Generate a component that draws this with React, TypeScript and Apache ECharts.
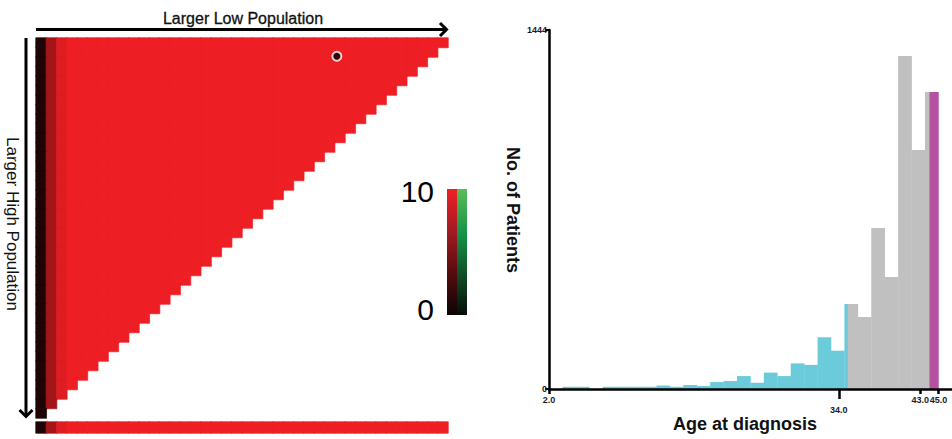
import React, { useEffect, useRef } from "react";
import * as echarts from "echarts";

// Score of each column of the triangular population map (0-10 scale)
const columnScores = [
  1.3, 6.8, 9.3, 10, 10, 10, 10, 10, 10, 10,
  10, 10, 10, 10, 10, 10, 10, 10, 10, 10,
  10, 10, 10, 10, 10, 10, 10, 10, 10, 10,
  10, 10, 10, 10, 10, 10, 10, 10, 10, 10,
];
// Bottom summary strip, one value per column
const summaryScores = [
  1.3, 6.8, 9.3, 10, 10, 10, 10, 10, 10, 10,
  10, 10, 10, 10, 10, 10, 10, 10, 10, 10,
  10, 10, 10, 10, 10, 10, 10, 10, 10, 10,
  10, 10, 10, 10, 10, 10, 10, 10, 10, 10,
];
// Highlighted cell [column, row]
const markedCell = [29, 1];

// Histogram of age at diagnosis
const ageMin = 2.0;
const ageMax = 45.0;
const patientCounts = [
  0, 9, 9, 0, 9, 9, 9, 9, 14, 9,
  16, 12, 28, 32, 52, 25, 66, 52, 103, 97,
  208, 154, 342, 290, 648, 450, 1339, 961, 1195,
];
const countMax = 1444;
const ageTicksShort = [2.0, 43.0, 45.0];
const ageTicksLong = [34.0];
// Age groups and their colours
const groupBreaks = [2.0, 35.0, 44.0, 45.0];
const groupColors = ["#6ccbdb", "#c0c0c0", "#b5519f"];

const scaleColors = ["#000000", "#ee1f24"];
const FONT = "'Liberation Sans', Arial, sans-serif";

export default function App() {
  const ref = useRef<HTMLDivElement>(null);

  useEffect(() => {
    if (!ref.current) return;
    const chart = echarts.init(ref.current, null, { renderer: "svg" });

    const n = columnScores.length;
    const cats = columnScores.map((_, i) => String(i));
    // cell outline in its own colour, so neighbouring cells join without seams
    const cell = (c: number, r: number, v: number) => ({
      value: [c, r, v],
      itemStyle: { borderColor: echarts.color.lerp(v / 10, scaleColors), borderWidth: 0.7 },
    });
    const heatData: any[] = [];
    for (let r = 0; r < n; r++) {
      for (let c = 0; c < n - r; c++) heatData.push(cell(c, r, columnScores[c]));
    }
    const stripData = summaryScores.map((v, c) => cell(c, 0, v));

    const binWidth = (ageMax - ageMin) / patientCounts.length;
    const histData = patientCounts.map((v, i) => [
      ageMin + i * binWidth,
      ageMin + (i + 1) * binWidth,
      v,
    ]);

    const tickLabel = {
      fontFamily: FONT,
      fontWeight: "bold" as const,
      fontSize: 9,
      color: "#1a1a2e",
      hideOverlap: false,
      formatter: (v: number) => v.toFixed(1),
    };

    chart.setOption({
      animation: false,
      grid: [
        { left: 36, top: 38, width: 412, height: 380 },
        { left: 36, top: 422, width: 412, height: 11 },
        { left: 549, top: 30, width: 403, height: 359 },
      ],
      xAxis: [
        { type: "category", data: cats, gridIndex: 0, show: false },
        { type: "category", data: cats, gridIndex: 1, show: false },
        {
          type: "value",
          gridIndex: 2,
          position: "bottom",
          min: ageMin,
          max: 46.5,
          z: 10,
          splitLine: { show: false },
          axisLine: { show: true, lineStyle: { color: "#000", width: 2.5 } },
          axisTick: {
            show: true,
            length: 5,
            customValues: ageTicksShort,
            lineStyle: { color: "#000", width: 2.5 },
          },
          axisLabel: { ...tickLabel, margin: 6, customValues: ageTicksShort },
        },
        {
          type: "value",
          gridIndex: 2,
          position: "bottom",
          offset: 0,
          min: ageMin,
          max: 46.5,
          z: 10,
          splitLine: { show: false },
          axisLine: { show: false },
          axisTick: {
            show: true,
            length: 10,
            customValues: ageTicksLong,
            lineStyle: { color: "#000", width: 2.5 },
          },
          axisLabel: { ...tickLabel, margin: 16, customValues: ageTicksLong },
        },
      ],
      yAxis: [
        { type: "category", data: cats, gridIndex: 0, inverse: true, show: false },
        { type: "category", data: ["0"], gridIndex: 1, show: false },
        {
          type: "value",
          gridIndex: 2,
          min: 0,
          max: countMax,
          interval: countMax,
          z: 10,
          splitLine: { show: false },
          axisLine: { show: true, lineStyle: { color: "#000", width: 2.5 } },
          axisTick: { show: true, length: 4, lineStyle: { color: "#000", width: 2 } },
          axisLabel: { ...tickLabel, margin: 2, formatter: (v: number) => String(v) },
        },
      ],
      visualMap: {
        show: false,
        min: 0,
        max: 10,
        seriesIndex: [0, 1],
        inRange: { color: scaleColors },
      },
      series: [
        {
          type: "heatmap",
          xAxisIndex: 0,
          yAxisIndex: 0,
          data: heatData,
          emphasis: { disabled: true },
        },
        {
          type: "heatmap",
          xAxisIndex: 1,
          yAxisIndex: 1,
          data: stripData,
          emphasis: { disabled: true },
        },
        {
          type: "scatter",
          xAxisIndex: 0,
          yAxisIndex: 0,
          data: [markedCell],
          symbolSize: 9,
          symbolOffset: [-3, 4],
          itemStyle: { color: "#000", borderColor: "#fff", borderWidth: 2 },
          z: 5,
        },
        {
          type: "custom",
          xAxisIndex: 2,
          yAxisIndex: 2,
          data: histData,
          encode: { x: [0, 1], y: 2 },
          renderItem: (_params: any, api: any) => {
            const x0 = api.value(0);
            const x1 = api.value(1);
            const v = api.value(2);
            const children: any[] = [];
            for (let g = 0; g < groupColors.length; g++) {
              const a = Math.max(x0, groupBreaks[g]);
              const b = Math.min(x1, groupBreaks[g + 1]);
              if (b <= a) continue;
              const p0 = api.coord([a, v]);
              const p1 = api.coord([b, 0]);
              children.push({
                type: "rect",
                shape: { x: p0[0], y: p0[1], width: p1[0] - p0[0] + 0.3, height: p1[1] - p0[1] },
                style: { fill: groupColors[g] },
              });
            }
            return { type: "group", children };
          },
        },
      ],
      graphic: [
        // horizontal arrow
        { type: "line", shape: { x1: 36, y1: 29.5, x2: 445, y2: 29.5 }, style: { stroke: "#000", lineWidth: 3 } },
        {
          type: "polyline",
          shape: { points: [[440, 23], [446.5, 29.5], [440, 36]] },
          style: { stroke: "#000", lineWidth: 3, fill: null },
        },
        // vertical arrow
        { type: "line", shape: { x1: 26, y1: 38, x2: 26, y2: 416 }, style: { stroke: "#000", lineWidth: 3 } },
        {
          type: "polyline",
          shape: { points: [[19.5, 410], [26, 416.5], [32.5, 410]] },
          style: { stroke: "#000", lineWidth: 3, fill: null },
        },
        {
          type: "text",
          x: 243,
          y: 18,
          style: {
            text: "Larger Low Population",
            font: `16px ${FONT}`,
            fill: "#111",
            stroke: "#111",
            lineWidth: 0.3,
            textAlign: "center",
            textVerticalAlign: "middle",
          },
        },
        {
          type: "text",
          x: 12,
          y: 224,
          rotation: -Math.PI / 2,
          style: {
            text: "Larger High Population",
            font: `17px ${FONT}`,
            fill: "#111",
            textAlign: "center",
            textVerticalAlign: "middle",
          },
        },
        // colour scale
        {
          type: "rect",
          shape: { x: 447, y: 189, width: 10, height: 126 },
          style: {
            fill: new echarts.graphic.LinearGradient(0, 0, 0, 1, [
              { offset: 0, color: "#ef1f27" },
              { offset: 0.35, color: "#a01a22" },
              { offset: 0.65, color: "#5a0c10" },
              { offset: 1, color: "#0a0404" },
            ]),
          },
        },
        {
          type: "rect",
          shape: { x: 457, y: 189, width: 10, height: 126 },
          style: {
            fill: new echarts.graphic.LinearGradient(0, 0, 0, 1, [
              { offset: 0, color: "#5cbc58" },
              { offset: 0.35, color: "#149448" },
              { offset: 0.7, color: "#0f4a26" },
              { offset: 1, color: "#060c08" },
            ]),
          },
        },
        {
          type: "text",
          x: 434,
          y: 191,
          style: { text: "10", font: `30px ${FONT}`, fill: "#000", textAlign: "right", textVerticalAlign: "middle" },
        },
        {
          type: "text",
          x: 434,
          y: 309,
          style: { text: "0", font: `30px ${FONT}`, fill: "#000", textAlign: "right", textVerticalAlign: "middle" },
        },
        {
          type: "text",
          x: 513,
          y: 210,
          rotation: -Math.PI / 2,
          style: {
            text: "No. of Patients",
            font: `bold 18px ${FONT}`,
            fill: "#111",
            textAlign: "center",
            textVerticalAlign: "middle",
          },
        },
        {
          type: "text",
          x: 745,
          y: 424,
          style: {
            text: "Age at diagnosis",
            font: `bold 18px ${FONT}`,
            fill: "#111",
            textAlign: "center",
            textVerticalAlign: "middle",
          },
        },
      ],
    });

    return () => chart.dispose();
  }, []);

  return (
    <div
      ref={ref}
      style={{ position: "absolute", left: 0, top: 0, width: 952, height: 439, background: "#fff" }}
    />
  );
}
